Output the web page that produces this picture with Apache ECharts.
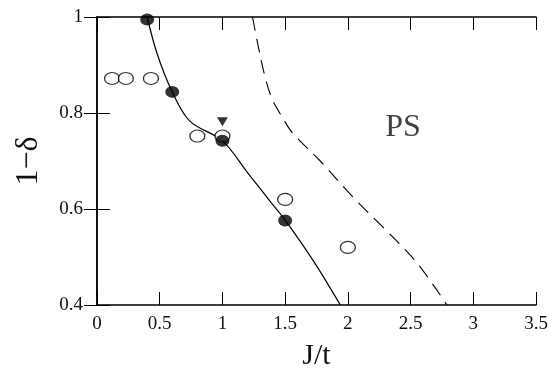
<!DOCTYPE html>
<html>
<head>
<meta charset="utf-8">
<script src="https://cdn.jsdelivr.net/npm/echarts@6/dist/echarts.min.js"></script>
<style>
  html, body { margin: 0; padding: 0; background: #fff; }
  #chart { width: 556px; height: 379px; }
</style>
</head>
<body>
<div id="chart"></div>
<script>
// data
var filledPts = [[0.4, 0.995], [0.6, 0.844], [1.0, 0.742], [1.5, 0.576]];
var openPts = [[0.12, 0.872], [0.23, 0.872], [0.43, 0.872], [0.8, 0.752], [1.0, 0.752], [1.5, 0.62], [2.0, 0.52]];
var trianglePts = [[1.0, 0.782]];
var solidCurve = [[0.4, 1.0], [0.48, 0.923], [0.6, 0.844], [0.74, 0.783], [1.0, 0.742], [1.2, 0.676], [1.39, 0.613], [1.5, 0.577], [1.72, 0.494], [1.94, 0.4]];
var dashedCurve = [[1.24, 1.0], [1.28, 0.946], [1.34, 0.875], [1.40, 0.827], [1.48, 0.79], [1.56, 0.758], [1.78, 0.70], [2.04, 0.625], [2.28, 0.562], [2.55, 0.488], [2.79, 0.4]];
var psLabel = [[2.44, 0.77]];

var font = 'Liberation Serif';
var chart = echarts.init(document.getElementById('chart'));

var tickStyle = { show: true, inside: true, length: 13, lineStyle: { color: '#000', width: 1 } };
var lineStyle = { show: true, lineStyle: { color: '#000', width: 1.5 } };

var option = {
  animation: false,
  backgroundColor: '#fff',
  grid: { left: 97, right: 20, top: 17, bottom: 74 },
  xAxis: [
    {
      type: 'value', min: 0, max: 3.5, interval: 0.5, position: 'bottom',
      axisLine: lineStyle, axisTick: tickStyle, splitLine: { show: false },
      axisLabel: { color: '#111', fontFamily: font, fontSize: 19, margin: 10 },
      name: 'J/t', nameLocation: 'middle', nameGap: 36,
      nameTextStyle: { color: '#111', fontFamily: font, fontSize: 30 }
    },
    {
      type: 'value', min: 0, max: 3.5, interval: 0.5, position: 'top',
      axisLine: lineStyle, axisTick: tickStyle, splitLine: { show: false },
      axisLabel: { show: false }
    }
  ],
  yAxis: [
    {
      type: 'value', min: 0.4, max: 1, interval: 0.2, position: 'left',
      axisLine: lineStyle, axisTick: tickStyle, splitLine: { show: false },
      axisLabel: { color: '#111', fontFamily: font, fontSize: 19, margin: 14,
        formatter: function (v) { return +v.toFixed(1) + ''; } },
      name: '1\u2212\u03b4', nameLocation: 'middle', nameGap: 52, nameRotate: 90,
      nameTextStyle: { color: '#111', fontFamily: font, fontSize: 32 }
    },
    {
      type: 'value', min: 0.4, max: 1, interval: 0.2, position: 'right',
      axisLine: lineStyle, axisTick: tickStyle, splitLine: { show: false },
      axisLabel: { show: false }
    }
  ],
  series: [
    {
      type: 'line', data: solidCurve, smooth: 0.35, showSymbol: false, symbol: 'none',
      lineStyle: { color: '#000', width: 1.2 }, z: 2
    },
    {
      type: 'line', data: dashedCurve, smooth: 0.35, showSymbol: false, symbol: 'none',
      lineStyle: { color: '#000', width: 1.1, type: [14, 8] }, z: 2
    },
    {
      type: 'scatter', data: openPts, symbol: 'circle', symbolSize: [15, 12],
      itemStyle: { color: '#fff', borderColor: '#000', borderWidth: 1.2 }, z: 3
    },
    {
      type: 'scatter', data: filledPts, symbol: 'circle', symbolSize: [14, 12],
      itemStyle: { color: '#000' }, z: 4
    },
    {
      type: 'scatter', data: trianglePts, symbol: 'triangle', symbolRotate: 180, symbolSize: [11, 9],
      itemStyle: { color: '#000' }, z: 4
    },
    {
      type: 'scatter', data: psLabel, symbolSize: 0,
      label: { show: true, position: 'inside', formatter: 'PS', color: '#111', fontFamily: font, fontSize: 32 }
    }
  ]
};
chart.setOption(option);
window.addEventListener('resize', function () { chart.resize(); });
</script>
</body>
</html>
